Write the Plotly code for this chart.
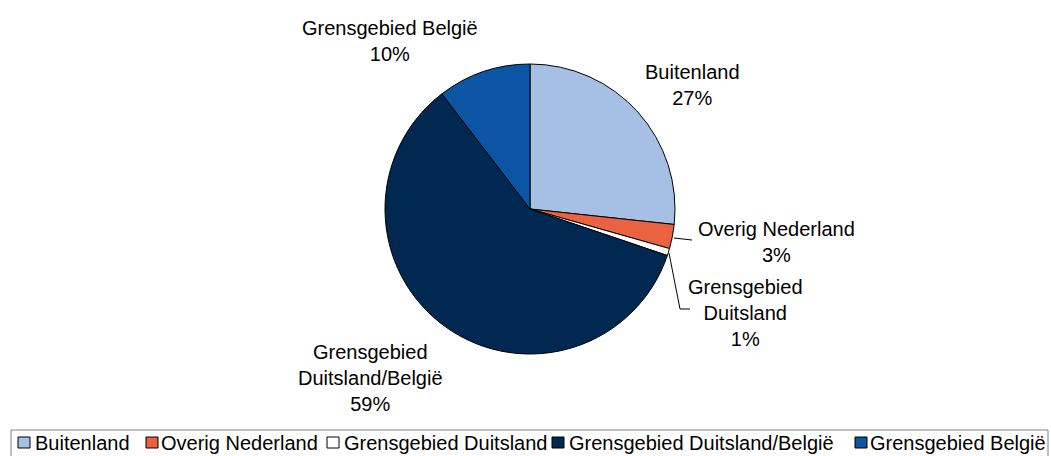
import plotly.graph_objects as go

W, H = 1051, 456

labels = ["Buitenland", "Overig Nederland", "Grensgebied Duitsland",
          "Grensgebied Duitsland/België", "Grensgebied België"]
values = [26.7, 2.7, 0.8, 59.4, 10.4]
colors = ["#A6BFE4", "#EA6240", "#FFFFFF", "#002850", "#0B55A4"]
label_text = ["Buitenland", "Overig Nederland", "Grensgebied<br>Duitsland",
              "Grensgebied<br>Duitsland/België", "Grensgebied België"]
# label anchor (pixel) positions: centre x, top y of text block
label_pos = [(692, 59), (776, 216), (745, 274), (370, 339), (390, 15)]
# legend layout (pixel): swatch left x, text left x
legend_swatch_x = [18, 146, 327, 552, 855]
legend_text_x = [33, 159, 342, 567, 868]

FONT = "Liberation Sans, Arial, sans-serif"


def px(x, y):
    return x / W, 1 - y / H


fig = go.Figure(go.Pie(
    labels=labels, values=values, sort=False, direction="clockwise", rotation=0,
    marker=dict(colors=colors, line=dict(color="#000000", width=1)),
    textinfo="none", hoverinfo="label+percent", showlegend=False,
    domain=dict(x=[(530 - 145) / W, (530 + 145) / W],
                y=[1 - (209 + 145) / H, 1 - (209 - 145) / H]),
))

total = sum(values)
annotations = []
for txt, v, (x, y) in zip(label_text, values, label_pos):
    ax, ay = px(x, y)
    annotations.append(dict(
        text=f"{txt}<br>{round(v / total * 100)}%", x=ax, y=ay,
        xref="paper", yref="paper", xanchor="center", yanchor="top",
        showarrow=False, align="center",
        font=dict(family=FONT, size=20, color="#000000"),
    ))

# leader lines
leaders = [[(674, 238), (692, 240)], [(669, 253), (680, 309), (690, 309)]]
shapes = []
for pts in leaders:
    path = "M" + " L".join(f"{px(x, y)[0]},{px(x, y)[1]}" for x, y in pts)
    shapes.append(dict(type="path", path=path, xref="paper", yref="paper",
                       line=dict(color="#000000", width=1)))

# legend box
x0, y0 = px(11, 430)
x1, y1 = px(1048, 470)
shapes.append(dict(type="rect", xref="paper", yref="paper", x0=x0, x1=x1, y0=y1, y1=y0,
                   line=dict(color="#808080", width=1), fillcolor="rgba(0,0,0,0)"))
for lab, col, sx, tx in zip(labels, colors, legend_swatch_x, legend_text_x):
    a0, b0 = px(sx, 437)
    a1, b1 = px(sx + 12, 448)
    shapes.append(dict(type="rect", xref="paper", yref="paper", x0=a0, x1=a1, y0=b1, y1=b0,
                       line=dict(color="#000000", width=1), fillcolor=col))
    ax, ay = px(tx, 443)
    annotations.append(dict(
        text=lab, x=ax, y=ay, xref="paper", yref="paper", xanchor="left", yanchor="middle",
        showarrow=False, font=dict(family=FONT, size=20, color="#000000"),
    ))

fig.update_layout(
    width=W, height=H,
    margin=dict(l=0, r=0, t=0, b=0),
    paper_bgcolor="#FFFFFF", plot_bgcolor="#FFFFFF",
    font=dict(family=FONT, size=20, color="#000000"),
    annotations=annotations, shapes=shapes,
    showlegend=False,
)

fig.write_html("out.html", config={"displayModeBar": False},
               post_script="document.body.style.margin='0';document.body.style.overflow='hidden';")
